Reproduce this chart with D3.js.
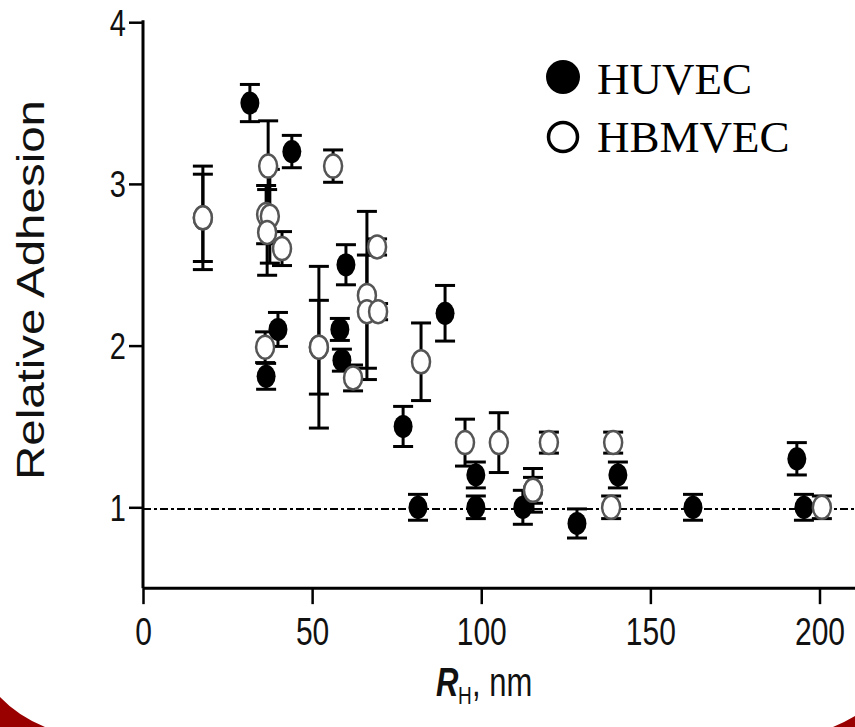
<!DOCTYPE html>
<html><head><meta charset="utf-8">
<script src="https://cdn.jsdelivr.net/npm/d3@7"></script>
<style>body{margin:0;background:#fff}svg{display:block}</style>
</head><body>
<svg id="c" width="855" height="727"></svg>
<script>
// HUVEC (filled): radius nm, relative adhesion, error
const huvecX   = [31.6, 44.0, 36.4, 39.9, 60.0, 58.2, 58.8, 89.3, 76.9, 81.3, 98.4, 98.4, 112.3, 128.3, 140.4, 162.6, 193.3, 195.4];
const huvecY   = [3.50, 3.20, 1.81, 2.10, 2.50, 2.10, 1.91, 2.20, 1.50, 1.00, 1.20, 1.00, 1.00, 0.90, 1.20, 1.00, 1.30, 1.00];
const huvecErr = [0.115,0.10, 0.08, 0.105,0.124,0.068,0.068,0.172,0.124,0.08, 0.08, 0.07, 0.105,0.09, 0.08, 0.08, 0.10, 0.08];
// HBMVEC (open)
const hbmX   = [17.7, 17.7, 37.0, 36.4, 37.5, 36.7, 41.1, 36.1, 56.2, 52.0, 52.0, 69.2, 66.2, 66.2, 69.5, 62.1, 82.2, 95.2, 105.2, 120.0, 115.3, 115.3, 139.0, 138.4, 200.7];
const hbmY   = [2.79, 2.79, 3.11, 2.81, 2.80, 2.70, 2.60, 1.99, 3.11, 1.99, 1.99, 2.61, 2.31, 2.21, 2.21, 1.80, 1.90, 1.40, 1.40, 1.40, 1.105, 1.105, 1.40, 1.00, 1.00];
const hbmErr = [0.32, 0.27, 0.28, 0.18, 0.29, 0.265,0.105,0.095,0.10, 0.50, 0.29, 0.05, 0.52, 0.35, 0.05, 0.08, 0.24, 0.145,0.185,0.065,0.08, 0.135,0.065,0.07, 0.07];
const xTicks = [0, 50, 100, 150, 200];
const yTicks = [1, 2, 3, 4];
const refLine = 0.99;
const seriesNames = ["HUVEC", "HBMVEC"];
const xTitleMain = "R", xTitleSub = "H", xTitleRest = ", nm";
const yTitle = "Relative Adhesion";

const svg = d3.select("#c");
// background corners
svg.append("path").attr("d","M0,697 Q18,716 45,727 L0,727 Z").attr("fill","#990000");
svg.append("path").attr("d","M833,727 Q845,722 855,716 L855,727 Z").attr("fill","#990000");

const x = d3.scaleLinear().domain([0,200]).range([143,819.5]);
const y = d3.scaleLinear().domain([0.5,4]).range([588.15,22.2]);

// reference line
svg.append("line").attr("x1",x(0)).attr("x2",855).attr("y1",y(refLine)).attr("y2",y(refLine))
  .attr("stroke","#000").attr("stroke-width",2).attr("stroke-dasharray","8,3,3,3");

// axes
const xAxis = svg.append("g").attr("transform",`translate(0,${y(0.5)})`)
  .call(d3.axisBottom(x).tickValues(xTicks).tickSize(16).tickPadding(0).tickFormat(d3.format("d")));
xAxis.select(".domain").attr("d",`M${x(0)},0H855`).attr("stroke-width",3);
xAxis.selectAll(".tick line").attr("stroke-width",2.5);
xAxis.selectAll(".tick text").attr("font-family","'Liberation Sans',Arial,sans-serif").attr("font-size",30)
  .attr("fill","#111").attr("y",0).attr("dy",null).attr("transform","translate(0,57) scale(1,1.3)");

const yAxis = svg.append("g").attr("transform",`translate(${x(0)},0)`)
  .call(d3.axisLeft(y).tickValues(yTicks).tickSize(14).tickPadding(0).tickFormat(d3.format("d")));
yAxis.select(".domain").attr("d",`M0,${y(4)-2}V${y(0.5)}`).attr("stroke-width",3);
yAxis.selectAll(".tick line").attr("stroke-width",2.5);
yAxis.selectAll(".tick text").attr("font-family","'Liberation Sans',Arial,sans-serif").attr("font-size",29)
  .attr("fill","#111").attr("x",0).attr("dy",null).attr("y",0).attr("text-anchor","end")
  .attr("transform","translate(-17,13) scale(1,1.3)");

// axis titles
svg.append("text").attr("transform","translate(44,290) rotate(-90)").attr("text-anchor","middle")
  .attr("font-family","'Liberation Sans',Arial,sans-serif").attr("font-size",39)
  .attr("textLength",380).attr("lengthAdjust","spacingAndGlyphs").attr("fill","#111").text(yTitle);

const xt = svg.append("g").attr("transform","translate(436,696) scale(1,1.3)");
xt.append("text").attr("x",0).attr("y",0).attr("font-family","'Liberation Sans',Arial,sans-serif")
  .attr("font-size",31).attr("font-style","italic").attr("font-weight","bold").attr("fill","#111").text(xTitleMain);
xt.append("text").attr("x",22).attr("y",6).attr("font-family","'Liberation Sans',Arial,sans-serif")
  .attr("font-size",19).attr("fill","#111").text(xTitleSub);
xt.append("text").attr("x",36).attr("y",0).attr("font-family","'Liberation Sans',Arial,sans-serif")
  .attr("font-size",31).attr("fill","#111").attr("xml:space","preserve").text(xTitleRest);

// data
const huvec = huvecX.map((v,i)=>({x:v,y:huvecY[i],e:huvecErr[i]}));
const hbm = hbmX.map((v,i)=>({x:v,y:hbmY[i],e:hbmErr[i]}));

function errBars(data){
  const g = svg.append("g").attr("stroke","#000").attr("stroke-width",3);
  data.forEach(d=>{
    g.append("line").attr("x1",x(d.x)).attr("x2",x(d.x)).attr("y1",y(d.y+d.e)).attr("y2",y(d.y-d.e));
    g.append("line").attr("x1",x(d.x)-10).attr("x2",x(d.x)+10).attr("y1",y(d.y+d.e)).attr("y2",y(d.y+d.e));
    g.append("line").attr("x1",x(d.x)-10).attr("x2",x(d.x)+10).attr("y1",y(d.y-d.e)).attr("y2",y(d.y-d.e));
  });
}
errBars(huvec);
svg.append("g").selectAll("ellipse").data(huvec).join("ellipse")
  .attr("cx",d=>x(d.x)).attr("cy",d=>y(d.y)).attr("rx",9.5).attr("ry",11.5).attr("fill","#000");
errBars(hbm);
svg.append("g").selectAll("ellipse").data(hbm).join("ellipse")
  .attr("cx",d=>x(d.x)).attr("cy",d=>y(d.y)).attr("rx",9).attr("ry",11.5)
  .attr("fill","#fff").attr("stroke","#555").attr("stroke-width",2.5);

// legend
svg.append("circle").attr("cx",563).attr("cy",77).attr("r",17).attr("fill","#000");
svg.append("circle").attr("cx",563).attr("cy",137).attr("r",14.5).attr("fill","#fff").attr("stroke","#000").attr("stroke-width",3.5);
svg.append("text").attr("x",597).attr("y",94).attr("font-family","'Liberation Serif','Times New Roman',serif")
  .attr("font-size",45).attr("fill","#000").text(seriesNames[0]);
svg.append("text").attr("x",597).attr("y",152).attr("font-family","'Liberation Serif','Times New Roman',serif")
  .attr("font-size",45).attr("fill","#000").text(seriesNames[1]);
</script>
</body></html>
